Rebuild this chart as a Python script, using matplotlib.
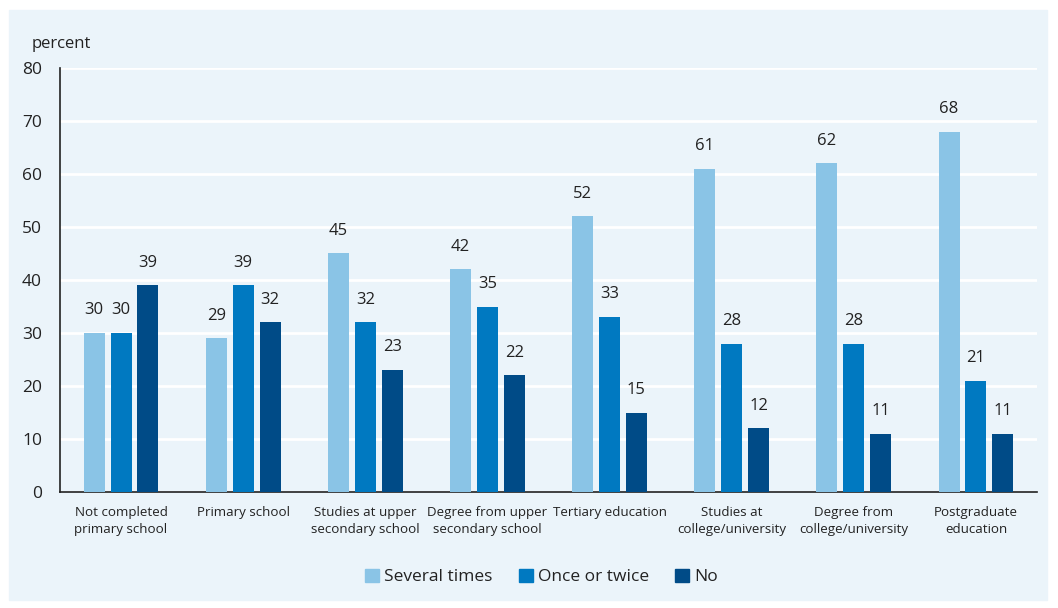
import matplotlib.pyplot as plt
import matplotlib.patches as mpatches
import numpy as np

plt.rcParams['font.family'] = ['Open Sans', 'DejaVu Sans']

categories = ["Not completed\nprimary school", "Primary school",
              "Studies at upper\nsecondary school", "Degree from upper\nsecondary school",
              "Tertiary education", "Studies at\ncollege/university",
              "Degree from\ncollege/university", "Postgraduate\neducation"]
series_names = ["Several times", "Once or twice", "No"]
several_times = [30, 29, 45, 42, 52, 61, 62, 68]
once_or_twice = [30, 39, 32, 35, 33, 28, 28, 21]
no_answer = [39, 32, 23, 22, 15, 12, 11, 11]
yticks = [0, 10, 20, 30, 40, 50, 60, 70, 80]

colors = ['#8AC4E6', '#0079C1', '#004B87']
bg = '#EBF4FA'
text_col = '#222222'

fig = plt.figure(figsize=(10.58, 6.08), dpi=100)
fig.patches.append(mpatches.Rectangle((9 / 1058, 8 / 608), 1038 / 1058, 590 / 608,
                                      transform=fig.transFigure, color=bg, zorder=-5))
ax = fig.add_axes([60 / 1058, 1 - 492 / 608, 977 / 1058, 424 / 608])
ax.set_zorder(2)
ax.set_facecolor(bg)

x = np.arange(len(categories))
step = 0.22
width = 0.172
for i, (vals, c) in enumerate(zip([several_times, once_or_twice, no_answer], colors)):
    pos = x + (i - 1) * step
    ax.bar(pos, vals, width=width, color=c, zorder=3, label=series_names[i])
    for p, v in zip(pos, vals):
        ax.text(p, v + 4.3, str(v), ha='center', va='center', fontsize=12, color=text_col)

ax.set_xlim(-0.5, 7.5)
ax.set_ylim(0, 80)
ax.set_yticks(yticks)
ax.set_yticklabels([str(t) for t in yticks], fontsize=12.5, color=text_col)
ax.yaxis.grid(True, color='white', linewidth=2, zorder=1)
ax.set_axisbelow(True)
ax.tick_params(axis='y', length=0, pad=13)
ax.set_xticks(x)
ax.set_xticklabels(categories, fontsize=9.6, color=text_col, linespacing=1.4)
ax.tick_params(axis='x', length=0, pad=10)
for s in ['top', 'right']:
    ax.spines[s].set_visible(False)
ax.spines['left'].set_color('#222222')
ax.spines['bottom'].set_color('#222222')
ax.spines['left'].set_linewidth(1.2)
ax.spines['bottom'].set_linewidth(1.2)

fig.text(32 / 1058, 1 - 44 / 608, 'percent', fontsize=12, color=text_col, va='center')

handles = [mpatches.Patch(color=c) for c in colors]
fig.legend(handles, series_names, loc='center', bbox_to_anchor=(0.512, 1 - 577 / 608),
           ncol=3, frameon=False, fontsize=12.5, handlelength=0.8, handleheight=0.8,
           handletextpad=0.3, columnspacing=1.5, labelcolor=text_col)

fig.savefig('out.png', dpi=100, facecolor='white')
